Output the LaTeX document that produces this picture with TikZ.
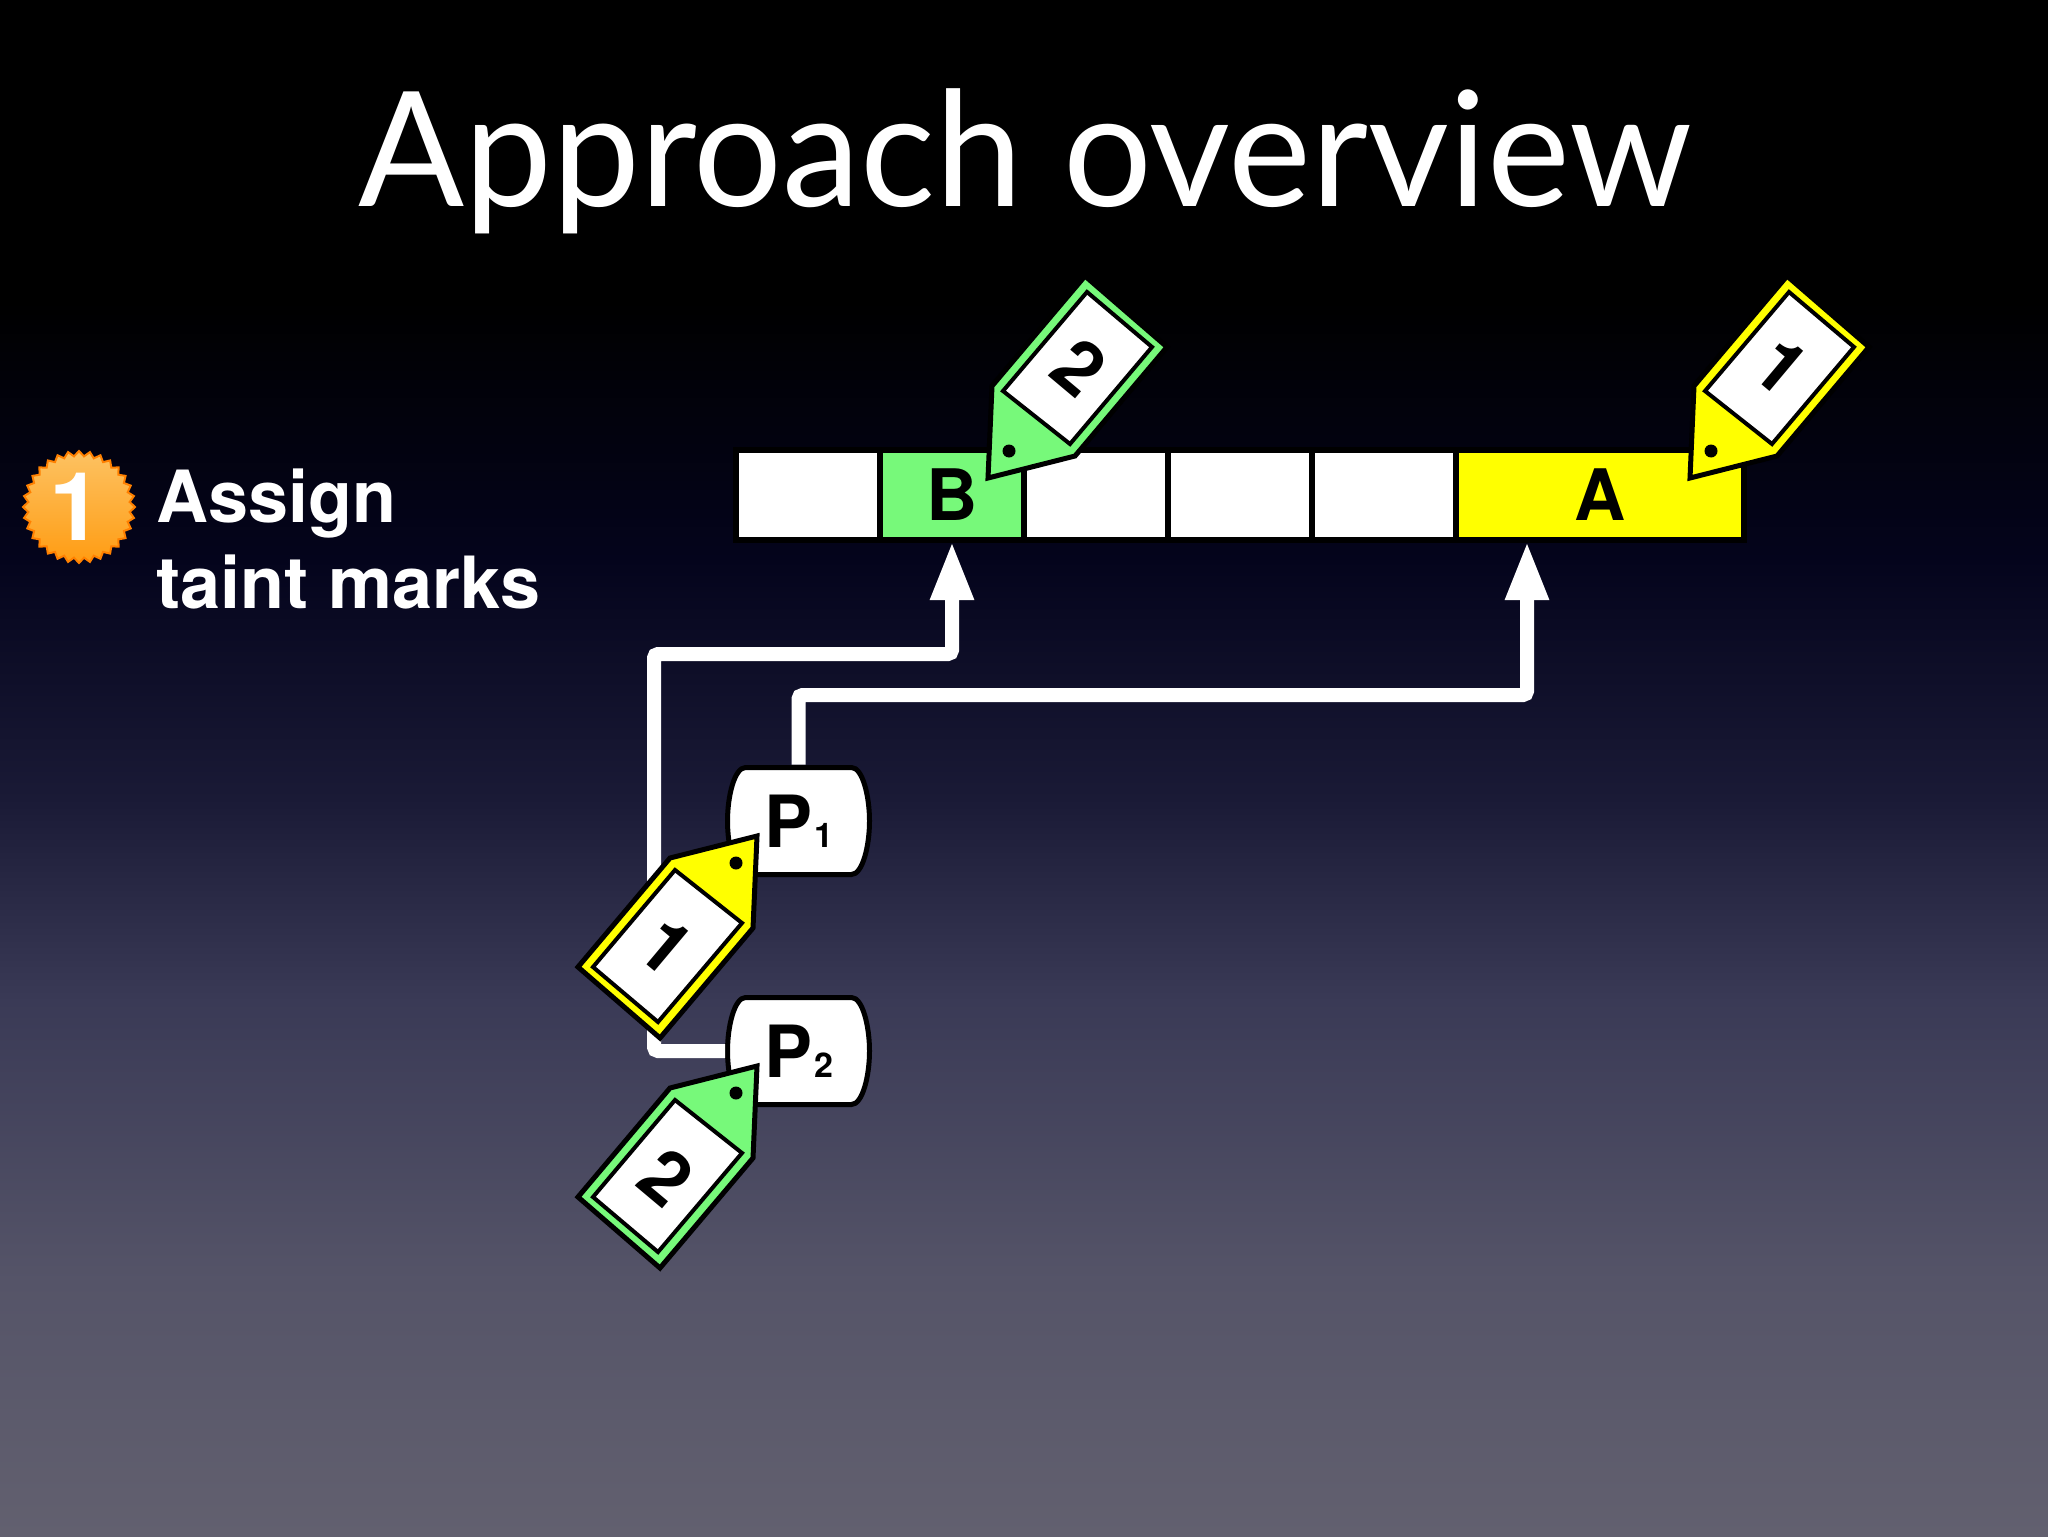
\documentclass[tikz,border=0pt]{standalone}
\usepackage{fontspec}
\setmainfont{TeX Gyre Heros}
\newfontfamily\titlefont[FakeStretch=0.98]{Lato}
\usetikzlibrary{arrows.meta,
positioning,
shapes.geometric}
\definecolor{markgreen}{HTML}{77F97A}
\definecolor{markyellow}{HTML}{FFFF00}
\definecolor{bgtop}{HTML}{000000}
\definecolor{bgnavy}{HTML}{04041C}
\definecolor{bgmid}{HTML}{1A1A36}
\definecolor{bglow}{HTML}{3A3A56}
\definecolor{bgfloor}{HTML}{555468}
\definecolor{bgend}{HTML}{62606F}
\definecolor{badgetop}{HTML}{FDC262}
\definecolor{badgelow}{HTML}{FF9C12}
\pgfdeclareverticalshading{slidebg}{100bp}{
	color(0bp)=(bgend);
	color(25bp)=(bgend);
	color(33.3bp)=(bgfloor);
	color(42.4bp)=(bglow);
	color(49bp)=(bgmid);
	color(56.8bp)=(bgnavy);
	color(65.2bp)=(bgtop);
	color(100bp)=(bgtop)}
\tikzset{
	cellbox/.style={draw=black, line width=3pt, outer sep=0pt, minimum width=72pt, minimum height=45pt, font=\fontsize{35.5}{36}\selectfont\bfseries},
	proctext/.style={inner sep=0pt, minimum width=73pt, minimum height=56pt, font=\fontsize{36}{36}\selectfont\bfseries},
	flowline/.style={draw=white, line width=7pt, rounded corners=2pt, -{Triangle[width=20pt,length=29.5pt]}, shorten >=0.5pt},
	pics/procshape/.style={code={
		\draw[fill=white, draw=black, line width=2.5pt]
			(-53,-53.5) -- (53,-53.5) .. controls (64,-53.5) and (71,-25) .. (71,0)
			.. controls (71,25) and (64,53.5) .. (53,53.5) -- (-53,53.5)
			.. controls (-64,53.5) and (-71,25) .. (-71,0)
			.. controls (-71,-25) and (-64,-53.5) .. (-53,-53.5) -- cycle;
	}},
	pics/taintmark/.style n args={2}{code={
		\draw[fill=#1, draw=black, line width=2.5pt, line join=miter]
			(-1,-1) -- (-88,21) -- (-180,130) -- (-98,201) -- (-5,91) -- cycle;
		\draw[fill=white, draw=black, line width=2pt]
			(-83,33) -- (-16,86) -- (-100,185) -- (-165,130) -- cycle;
		\fill[black] (-22,26) circle (6.5);
		\node[rotate=-40, inner sep=0pt, font=\fontsize{37}{37}\selectfont\bfseries] (digit) at (-92,110) {#2};
	}}
}
\newcommand{\subfont}{\fontsize{17}{17}\selectfont}
\begin{document}
\begin{tikzpicture}[
		x=0.5pt,
		y=-0.5pt
	]
	\path[shading=slidebg] (0,0) rectangle (2048,1536);
	\node [anchor=base, text=white, inner sep=0pt, font=\titlefont\fontsize{80}{96}\selectfont] (title) at (1025,206) {Approach overview};
	\node [star, star points=32, star point ratio=1.1, minimum size=56pt, inner sep=0pt, draw=orange, line width=1pt, top color=badgetop, bottom color=badgelow] (badge) at (79,507) {};
	\node [text=white, inner sep=0pt, font=\fontsize{47.5}{48}\selectfont\bfseries] (badgenum) at (76,507) {1};
	\node [anchor=north west, align=left, text=white, inner sep=0pt, font=\fontsize{36}{43}\selectfont\bfseries] (steplabel) at (156,468) {Assign\\taint marks};

	\node [cellbox, fill=white] (cellone) at (808,495) {};
	\node [cellbox, fill=markgreen, right=0pt of cellone] (cellb) {B};
	\node [cellbox, fill=white, right=0pt of cellb] (cellthree) {};
	\node [cellbox, fill=white, right=0pt of cellthree] (cellfour) {};
	\node [cellbox, fill=white, right=0pt of cellfour] (cellfive) {};
	\node [cellbox, fill=markyellow, minimum width=144pt, right=0pt of cellfive] (cella) {A};

	\pic at (798.5,821) {procshape};
	\node [proctext] (pone) at (798.5,821) {P\kern1pt{\subfont 1}};
	\pic at (798.5,1051) {procshape};
	\node [proctext] (ptwo) at (798.5,1051) {P\kern1pt{\subfont 2}};

	\coordinate (bendb) at (654,654);
	\coordinate (benda) at (1527,695);
	\draw[flowline] (ptwo.west) -| (bendb) -| (cellb.south);
	\draw[flowline] (pone.north) |- (benda) -- ([xshift=-36.5pt]cella.south);

	\pic (tagbox) [rotate=180] at (987,477) {taintmark={markgreen}{2}};
	\pic (tagcell) [rotate=180] at (1689,477) {taintmark={markyellow}{1}};
	\pic (tagpone) at (758,837) {taintmark={markyellow}{1}};
	\pic (tagptwo) at (758,1067) {taintmark={markgreen}{2}};
\end{tikzpicture}
\end{document}
